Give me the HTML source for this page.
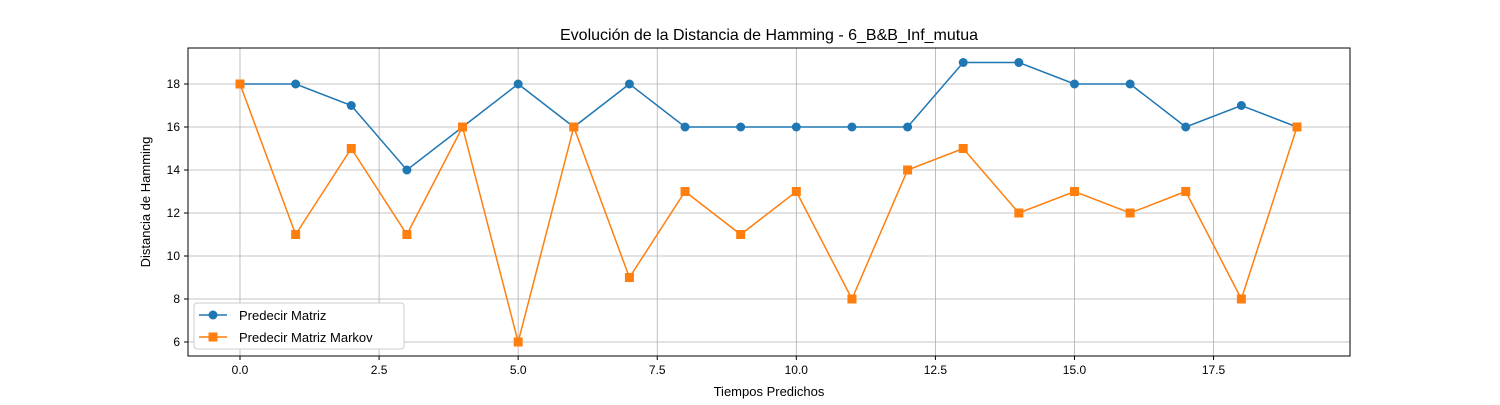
<!DOCTYPE html>
<html><head><meta charset="utf-8"><style>
body{margin:0;background:#fff;}
svg text{font-family:"Liberation Sans","DejaVu Sans",sans-serif;fill:#000;}
</style></head><body>
<svg id="chart" width="1500" height="400" xmlns="http://www.w3.org/2000/svg">
<rect width="1500" height="400" fill="#fff"/>
<text x="769" y="40" font-size="16" text-anchor="middle">Evolución de la Distancia de Hamming - 6_B&amp;B_Inf_mutua</text>
<text x="769" y="396" font-size="13" text-anchor="middle">Tiempos Predichos</text>
<text x="150" y="202" font-size="13" text-anchor="middle" transform="rotate(-90 150 202)">Distancia de Hamming</text>
<g id="grid"></g><g id="series"></g><g id="axes"></g>
<g>
<rect x="194" y="303" width="210" height="46" fill="#fff" stroke="#ccc" rx="3"/>
<g>
<line x1="199" y1="315" x2="227" y2="315" stroke="#1f77b4" stroke-width="1.5"/>
<circle cx="213" cy="315" r="4.5" fill="#1f77b4"/>
<text x="239" y="320" font-size="13">Predecir Matriz</text></g>
<g>
<line x1="199" y1="337" x2="227" y2="337" stroke="#ff7f0e" stroke-width="1.5"/>
<rect x="208.5" y="332.5" width="9" height="9" fill="#ff7f0e"/>
<text x="239" y="342" font-size="13">Predecir Matriz Markov</text></g>
</g>
</svg>
<script>
const xTicks=[0,2.5,5,7.5,10,12.5,15,17.5];
const xTickLabels=["0.0","2.5","5.0","7.5","10.0","12.5","15.0","17.5"];
const yTicks=[6,8,10,12,14,16,18];
const matriz=[18,18,17,14,16,18,16,18,16,16,16,16,16,19,19,18,18,16,17,16];
const markov=[18,11,15,11,16,6,16,9,13,11,13,8,14,15,12,13,12,13,8,16];
const L=188,R=1350,T=48,B=356;
const xs=v=>240+v*(1297-240)/19;
const ys=v=>342-(v-6)*(342-84)/12;
const NS="http://www.w3.org/2000/svg";
function mk(tag,attrs,parent){const e=document.createElementNS(NS,tag);for(const k in attrs)e.setAttribute(k,attrs[k]);parent.appendChild(e);return e;}
const grid=document.getElementById('grid'),axes=document.getElementById('axes'),ser=document.getElementById('series');
xTicks.forEach((t,i)=>{const x=xs(t);
 const g=mk('line',{x1:x,x2:x,y1:T,y2:B,stroke:'#b0b0b0','stroke-width':0.8},grid);
 
 
 mk('line',{x1:x,x2:x,y1:B,y2:B+4,stroke:'#000'},axes);
 const tx=mk('text',{x:x,y:B+18,'font-size':12,'text-anchor':'middle'},axes);tx.textContent=xTickLabels[i];
 
 
});
yTicks.forEach(t=>{const y=ys(t);
 const g=mk('line',{x1:L,x2:R,y1:y,y2:y,stroke:'#b0b0b0','stroke-width':0.8},grid);
 
 
 mk('line',{x1:L-4,x2:L,y1:y,y2:y,stroke:'#000'},axes);
 const tx=mk('text',{x:L-8,y:y+4,'font-size':12,'text-anchor':'end'},axes);tx.textContent=t;
 
 
});
const frame=mk('rect',{x:L,y:T,width:R-L,height:B-T,fill:'none',stroke:'#000','stroke-width':1},axes);


function draw(data,color,shape,name){
 const pl=mk('polyline',{points:data.map((v,i)=>xs(i)+','+ys(v)).join(' '),fill:'none',stroke:color,'stroke-width':1.5},ser);
 
 
 data.forEach((v,i)=>{let m;
  if(shape==='c')m=mk('circle',{cx:xs(i),cy:ys(v),r:4.5,fill:color},ser);
  else m=mk('rect',{x:xs(i)-4.5,y:ys(v)-4.5,width:9,height:9,fill:color},ser);
  
  
 });
}
draw(matriz,'#1f77b4','c','matriz');
draw(markov,'#ff7f0e','s','markov');
</script>
</body></html>
